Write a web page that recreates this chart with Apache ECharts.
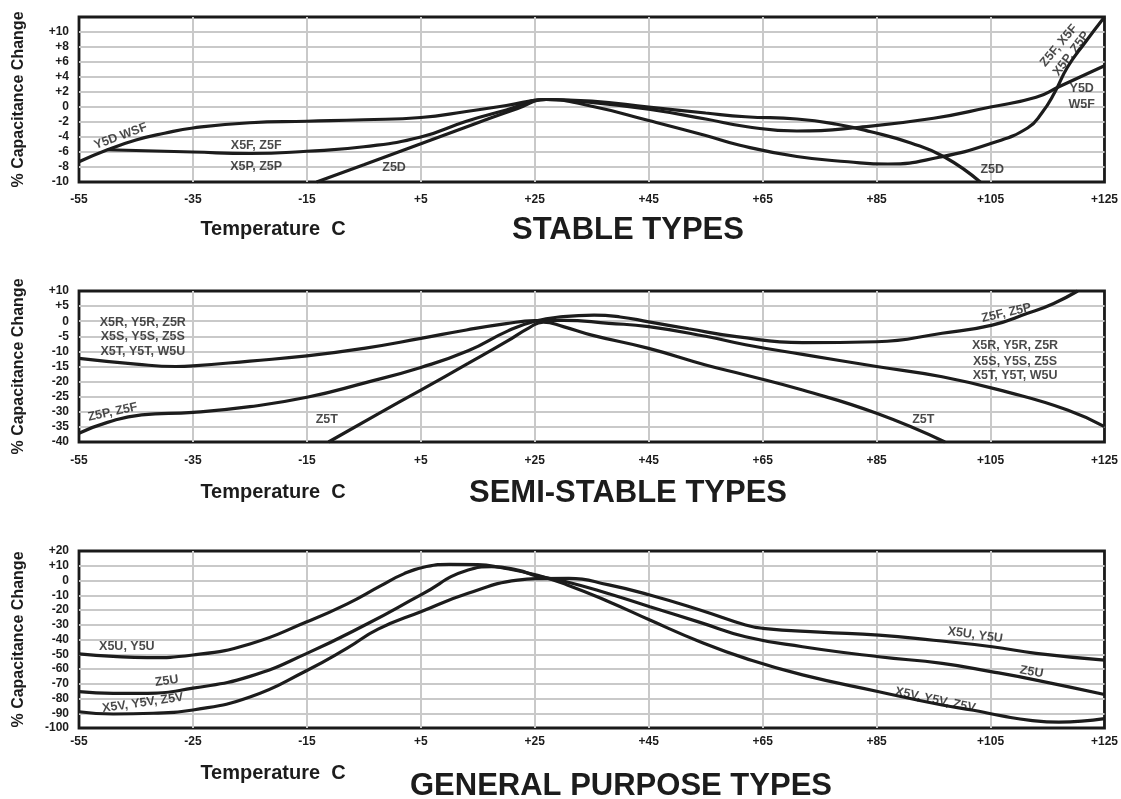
<!DOCTYPE html>
<html>
<head>
<meta charset="utf-8">
<script src="https://cdn.jsdelivr.net/npm/echarts@6/dist/echarts.min.js"></script>
<style>
  html, body { margin: 0; padding: 0; background: #fff; }
  #chart { width: 1121px; height: 799px; }
</style>
</head>
<body>
<div id="chart"></div>
<script>
// Temperature axes start at -55 C; x values are stored as real temperatures
// and shifted by T_MIN so the 20-degree ticks land on -55, -35, -15 ...
const T_MIN = -55;

// ---- tick labels ----
const xTickLabels = ['-55', '-35', '-15', '+5', '+25', '+45', '+65', '+85', '+105', '+125'];
const xTickLabelsGeneral = ['-55', '-25', '-15', '+5', '+25', '+45', '+65', '+85', '+105', '+125'];
const yTicksStable = ['-10', '-8', '-6', '-4', '-2', '0', '+2', '+4', '+6', '+8', '+10'];
const yTicksSemi = ['-40', '-35', '-30', '-25', '-20', '-15', '-10', '-5', '0', '+5', '+10'];
const yTicksGeneral = ['-100', '-90', '-80', '-70', '-60', '-50', '-40', '-30', '-20', '-10', '0', '+10', '+20'];

// ---- STABLE TYPES: [temperature C, % capacitance change] ----
const stableY5D = [[-55, -7.3], [-50, -5.7], [-45, -4.4], [-40, -3.5], [-35, -2.8], [-25, -2.1], [-15, -1.9],
  [-5, -1.7], [5, -1.4], [13, -0.6], [20, 0.2], [27, 1.0], [35, 0.6], [45, -0.3], [55, -1.6], [62, -2.6],
  [71, -3.2], [82, -2.7], [95, -1.5], [105, 0], [113, 1.3], [117, 2.7], [125, 5.5]];
const stableX5F = [[-50, -5.7], [-45, -5.8], [-35, -6.0], [-25, -6.2], [-15, -5.9], [-5, -5.3], [5, -4.0],
  [13, -1.9], [20, -0.4], [27, 1.0], [35, 0.1], [45, -1.8], [55, -3.8], [61, -5.1], [71, -6.6], [80, -7.3],
  [87, -7.6], [96, -6.7], [105.3, -4.8], [111.5, -2.8], [114, -0.8], [116.3, 2.0], [118.5, 5.3],
  [121.5, 8.5], [125, 12]];
const stableZ5D = [[-13.3, -10], [-5, -7.7], [5, -4.9], [15, -2.1], [22, -0.2], [27, 1.0], [35, 0.8],
  [45, 0.0], [55, -0.8], [62, -1.3], [71, -1.6], [78, -2.3], [84, -3.3], [91, -4.8], [97, -6.7], [103.2, -10]];

// ---- SEMI-STABLE TYPES ----
const semiX5R = [[-55, -12.3], [-45, -14.2], [-38, -15], [-35, -14.8], [-25, -13.2], [-15, -11.5], [-5, -9.0],
  [5, -5.7], [13, -2.9], [20, -0.8], [25, 0.2], [30, 0.3], [38, -0.7], [45, -1.8], [55, -5], [62, -7.8],
  [72, -11], [85, -15], [96.5, -18.4], [108, -23.5], [118.5, -29.4], [125, -34.9]];
const semiZ5F = [[-55, -37.1], [-50, -33.5], [-44, -31], [-35, -30.2], [-25, -28.3], [-15, -25.2], [-5, -20.5],
  [5, -15.3], [13.3, -9.8], [20.3, -3.2], [25, 0], [30, 1.5], [35.4, 2.0], [40, 1.4], [45, -0.2], [52, -2.5],
  [60.4, -5.1], [72, -7.1], [85, -6.8], [96.5, -4.0], [105.3, -1.3], [111.5, 2.6], [116, 5.8], [120.3, 10]];
const semiZ5T = [[-11.2, -40], [-2.5, -30.7], [5, -22.8], [13.3, -14], [20, -6.8], [24, -2.2], [26.5, -0.3],
  [30, -1.8], [35, -4.6], [45, -9.0], [55, -14.5], [62, -17.8], [72, -22.8], [85, -30.5], [97, -40]];

// ---- GENERAL PURPOSE TYPES (the traces cross near +25 C) ----
const gpEarlyPeak = [[-55, -49.8], [-49, -51.5], [-43, -52.3], [-35, -50.5], [-25, -43], [-15, -28],
  [-8, -16], [-2, -3.5], [2, 4.5], [6, 9.5], [10, 11], [15, 10.8], [19, 8.8], [25.5, 3.5], [30.7, -3],
  [38, -14.4], [45.2, -26.8], [54, -41.5], [62, -52.8], [72, -64], [85.4, -75.4], [96.5, -84.4],
  [102, -88], [107, -91.8], [112, -94.8], [117, -96], [121, -95.4], [125, -93.6]];
const gpZ5U = [[-55, -75.4], [-49, -76.5], [-43, -76.5], [-35, -73], [-25, -65], [-15, -49.4], [-4.2, -29],
  [5, -9.8], [13.3, 7.1], [17.4, 9.4], [22, 7], [25.5, 3], [30.7, -1], [38, -9], [45.2, -17.8], [54, -28.4],
  [62, -38.1], [72, -44.9], [85.4, -51.7], [96.5, -56.2], [105.3, -61.9], [113, -67.5], [125, -77.3]];
const gpLatePeak = [[-55, -89], [-49, -90.5], [-42, -90], [-35, -87.8], [-25, -79], [-15, -61], [-8, -46],
  [-2.5, -33], [5, -21.2], [13.3, -8.7], [22, 0.3], [26, 1.3], [31, 1.5], [38, -3], [45.2, -9.8], [54, -20],
  [62, -30.2], [65, -32.4], [75, -35], [85.4, -37], [95, -40.5], [105.3, -44.9], [113, -49.4], [125, -54]];

// ---- curve annotations: [text, temperature, value, rotation deg] ----
const stableNotes = [
  ['Y5D WSF', -47.7, -3.9, 20], ['X5F, Z5F', -23.9, -5.1, 0], ['X5P, Z5P', -23.9, -8.0, 0],
  ['Z5D', 0.3, -8.1, 0], ['Z5D', 105.3, -8.3, 0], ['Z5F, X5F', 117, 8.2, 50], ['X5P, Z5P', 119.2, 7.1, 53],
  ['Y5D', 121, 2.4, 0], ['W5F', 121, 0.3, 0]
];
const semiNotes = [
  ['X5R, Y5R, Z5R', -43.8, -0.3, 0], ['X5S, Y5S, Z5S', -43.8, -5.2, 0], ['X5T, Y5T, W5U', -43.8, -10.2, 0],
  ['Z5P, Z5F', -49.1, -30.1, 12], ['Z5T', -11.5, -32.7, 0], ['Z5F, Z5P', 107.8, 2.7, 13],
  ['X5R, Y5R, Z5R', 109.3, -8.2, 0], ['X5S, Y5S, Z5S', 109.3, -13.2, 0], ['X5T, Y5T, W5U', 109.3, -18.1, 0],
  ['Z5T', 93.2, -32.7, 0]
];
const generalNotes = [
  ['X5U, Y5U', -46.6, -45.1, 0], ['Z5U', -39.6, -68.1, 8], ['X5V, Y5V, Z5V', -43.8, -83, 8],
  ['X5U, Y5U', 102.3, -37, -8], ['Z5U', 112.2, -62, -10], ['X5V, Y5V, Z5V', 95.3, -81, -12]
];

const FONT = '"Liberation Sans", Arial, Helvetica, sans-serif';
const INK = '#1c1c1c';

function curve(data, idx) {
  return {
    type: 'line', xAxisIndex: idx, yAxisIndex: idx,
    data: data.map(p => [p[0] - T_MIN, p[1]]),
    smooth: 0.5, symbol: 'none', silent: true,
    lineStyle: { color: INK, width: 3.2 }, z: 3
  };
}

function notes(list, idx) {
  return {
    type: 'scatter', xAxisIndex: idx, yAxisIndex: idx, symbolSize: 0, silent: true, z: 5,
    data: list.map(n => ({
      name: n[0], value: [n[1] - T_MIN, n[2]],
      label: { rotate: n[3] }
    })),
    label: {
      show: true, position: 'inside', formatter: '{b}',
      color: INK, fontFamily: FONT, fontWeight: 'bold', fontSize: 12.5
    }
  };
}

function xAxis(idx, labels, margin) {
  return {
    type: 'value', gridIndex: idx, min: 0, max: 180, interval: 20,
    axisLine: { show: false }, axisTick: { show: false },
    axisLabel: {
      margin: margin, color: INK, fontFamily: FONT, fontWeight: 'bold', fontSize: 12,
      formatter: v => labels[Math.round(v / 20)] || ''
    },
    splitLine: { show: true, showMinLine: false, showMaxLine: false, lineStyle: { color: '#c9c9c9', width: 2 } }
  };
}

function yAxis(idx, min, max, step, labels) {
  return {
    type: 'value', gridIndex: idx, min: min, max: max, interval: step,
    name: '% Capacitance Change', nameLocation: 'middle', nameRotate: 90, nameGap: 52,
    nameTextStyle: { color: INK, fontFamily: FONT, fontWeight: 'bold', fontSize: 16 },
    axisLine: { show: false }, axisTick: { show: false },
    axisLabel: {
      margin: 10, color: INK, fontFamily: FONT, fontWeight: 'bold', fontSize: 12,
      formatter: v => labels[Math.round((v - min) / step)] || ''
    },
    splitLine: { show: true, showMinLine: false, showMaxLine: false, lineStyle: { color: '#c9c9c9', width: 2 } }
  };
}

function caption(text, x, y, size) {
  return {
    type: 'text', x: x, y: y, silent: true,
    style: {
      text: text, fill: INK, font: 'bold ' + size + 'px ' + FONT,
      textAlign: 'center', textVerticalAlign: 'middle', align: 'center', verticalAlign: 'middle'
    }
  };
}

const frame = { show: true, borderColor: '#1a1a1a', borderWidth: 2.8, backgroundColor: 'transparent' };

const option = {
  animation: false,
  backgroundColor: '#ffffff',
  grid: [
    Object.assign({ left: 79, top: 17, width: 1031, height: 165 }, frame),
    Object.assign({ left: 79, top: 291, width: 1032, height: 151 }, frame),
    Object.assign({ left: 79, top: 551, width: 1031, height: 177 }, frame)
  ],
  xAxis: [xAxis(0, xTickLabels, 12), xAxis(1, xTickLabels, 13), xAxis(2, xTickLabelsGeneral, 8)],
  yAxis: [
    yAxis(0, -10, 12, 2, yTicksStable),
    yAxis(1, -40, 10, 5, yTicksSemi),
    yAxis(2, -100, 20, 10, yTicksGeneral)
  ],
  series: [
    curve(stableY5D, 0), curve(stableX5F, 0), curve(stableZ5D, 0), notes(stableNotes, 0),
    curve(semiX5R, 1), curve(semiZ5F, 1), curve(semiZ5T, 1), notes(semiNotes, 1),
    curve(gpEarlyPeak, 2), curve(gpZ5U, 2), curve(gpLatePeak, 2), notes(generalNotes, 2)
  ],
  graphic: [
    caption('Temperature  C', 273, 229, 20),
    caption('STABLE TYPES', 628, 230, 31),
    caption('Temperature  C', 273, 492, 20),
    caption('SEMI-STABLE TYPES', 628, 493, 31),
    caption('Temperature  C', 273, 773, 20),
    caption('GENERAL PURPOSE TYPES', 621, 786, 31)
  ]
};

const chart = echarts.init(document.getElementById('chart'), null, { renderer: 'canvas' });
chart.setOption(option);
</script>
</body>
</html>
